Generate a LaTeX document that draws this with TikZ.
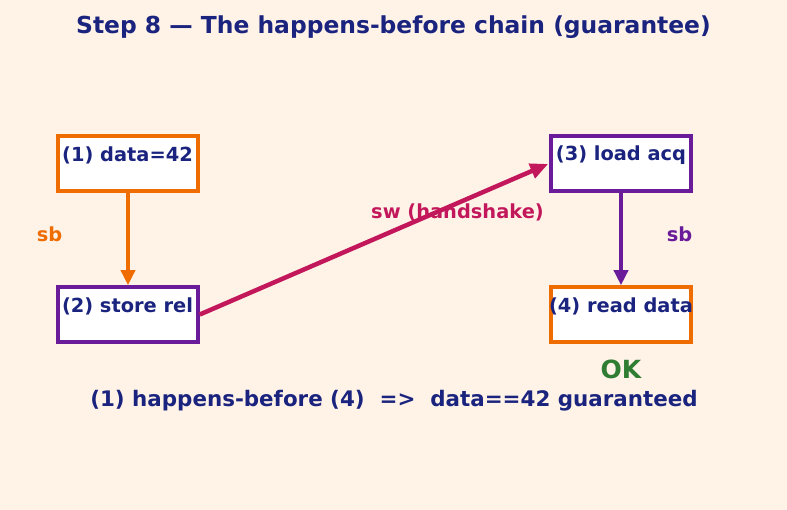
\documentclass[tikz,border=0pt]{standalone}
\usepackage{fontspec}
\setmainfont{DejaVu Sans}
\usetikzlibrary{arrows.meta}
\definecolor{bgpeach}{RGB}{255,243,232}
\definecolor{navy}{RGB}{26,35,126}
\definecolor{deeporange}{RGB}{239,108,0}
\definecolor{deeppurple}{RGB}{106,27,154}
\definecolor{crimson}{RGB}{194,24,91}
\definecolor{okgreen}{RGB}{46,125,50}
\tikzset{
  opbox/.style={rectangle,draw=#1,line width=3.6pt,fill=white,minimum width=140pt,minimum height=55pt,inner sep=0pt},
  optext/.style={text=navy,font=\fontsize{19.4}{22}\selectfont\bfseries,inner sep=0pt},
  sbarrow/.style={draw=#1,line width=3.6pt,-{Triangle[length=15pt,width=14pt]}},
  edgelabel/.style={text=#1,font=\fontsize{19.4}{22}\selectfont\bfseries,inner sep=0pt}
}
\begin{document}
\begin{tikzpicture}[x=1pt,y=-1pt]
		\useasboundingbox[fill=bgpeach] (0,0) rectangle (787,510);
		
		\node[text=navy,font=\fontsize{23.4}{27}\selectfont\bfseries] (title) at (393.5,27.5) {Step 8 — The happens-before chain (guarantee)};
		
		\node[opbox=deeporange] (wdata) at (128,163.5) {};
		\node[opbox=deeppurple] (srel) at (128,314.5) {};
		\node[opbox=deeppurple] (lacq) at (621,163.5) {};
		\node[opbox=deeporange] (rdata) at (621,314.5) {};
		
		\node[optext] (wdatatext) at (127.5,155) {(1) data=42};
		\node[optext] (sreltext) at (127.5,306) {(2) store rel};
		\node[optext] (lacqtext) at (621,155) {(3) load acq};
		\node[optext] (rdatatext) at (621,306) {(4) read data};
		
		\draw[sbarrow=deeporange] (wdata.south) -- (srel.north);
		\draw[sbarrow=deeppurple] (lacq.south) -- (rdata.north);
		\draw[draw=crimson,line width=4.5pt,-{Triangle[length=18pt,width=15pt]},shorten >=1pt] (srel.east) -- (lacq.west);
		
		\node[edgelabel=deeporange] (sbleft) at (49.5,234.5) {sb};
		\node[edgelabel=deeppurple] (sbright) at (679.5,234.5) {sb};
		\node[edgelabel=crimson] (swlabel) at (457.5,212) {sw (handshake)};
		
		\node[text=okgreen,font=\fontsize{25}{28}\selectfont\bfseries] (ok) at (621,369) {OK};
		\node[text=navy,font=\fontsize{21.4}{25}\selectfont\bfseries] (summary) at (394,401) {(1) happens-before (4) \ =>\ \ data==42 guaranteed};
	\end{tikzpicture}
\end{document}
